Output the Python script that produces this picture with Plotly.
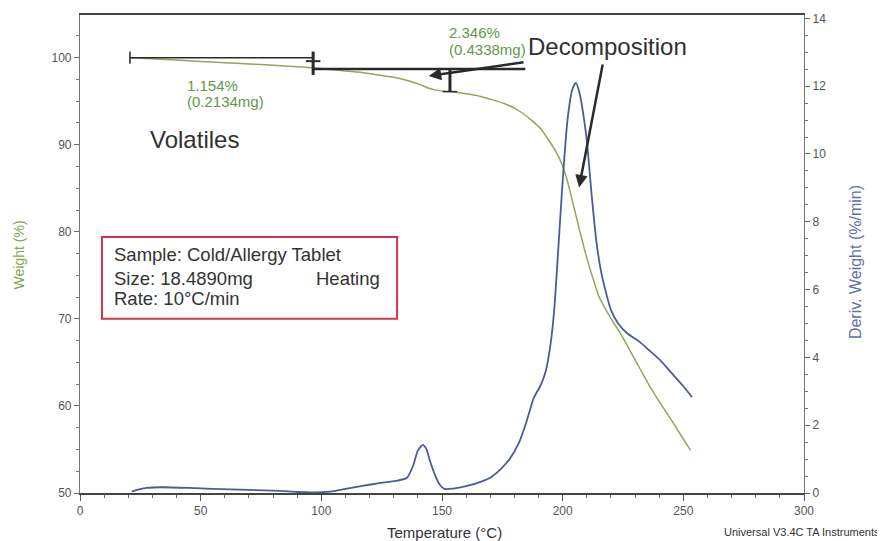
import plotly.graph_objects as go

# ---- data ----
temp_w = [21, 30, 40, 50, 60, 70, 80, 90, 96.6, 105, 115, 124, 130, 136, 141, 144, 147, 151, 155,
          160, 166, 171, 176, 180, 184, 188, 191, 194, 197, 199.5, 202, 204.5, 207, 210, 212.6,
          215, 218, 221, 224, 228, 232, 236, 240, 245, 250, 253]
weight = [100.0, 99.88, 99.72, 99.57, 99.42, 99.28, 99.12, 98.97, 98.85, 98.6, 98.35, 98.0, 97.75,
          97.35, 96.9, 96.55, 96.3, 96.15, 96.05, 95.85, 95.55, 95.15, 94.7, 94.2, 93.5, 92.6, 91.8,
          90.6, 89.3, 87.9, 85.8, 83.0, 80.2, 77.0, 74.6, 72.6, 71.0, 69.6, 68.3, 66.3, 64.3, 62.3,
          60.5, 58.4, 56.2, 54.9]

temp_d = [21.4, 24, 27.6, 34, 45, 55, 70, 83, 90, 97, 103.6, 110, 117, 124, 131, 135.5, 138, 140,
          142, 143.5, 145, 147, 149, 151, 154.6, 160, 166, 170, 174, 178, 182, 185, 188, 191, 193,
          195, 196.5, 198, 200, 202, 204, 205.5, 207, 208.5, 210, 212, 214, 216, 218, 220, 223,
          226.6, 232, 236, 240.4, 245, 250, 253.6]
deriv = [0.04, 0.1, 0.15, 0.17, 0.15, 0.12, 0.09, 0.06, 0.03, 0.02, 0.04, 0.12, 0.21, 0.29, 0.36,
         0.45, 0.8, 1.25, 1.42, 1.3, 0.95, 0.55, 0.25, 0.12, 0.13, 0.2, 0.33, 0.45, 0.68, 1.0, 1.5,
         2.1, 2.8, 3.2, 3.6, 4.4, 5.4, 7.0, 9.2, 11.0, 11.9, 12.1, 11.8, 11.2, 10.4, 8.8, 7.4, 6.5,
         5.9, 5.4, 5.0, 4.72, 4.45, 4.2, 3.92, 3.55, 3.15, 2.83]

x_ticks = [0, 50, 100, 150, 200, 250, 300]
y_ticks = [50, 60, 70, 80, 90, 100]
y2_ticks = [0, 2, 4, 6, 8, 10, 12, 14]

# step annotations (temperature, weight)
step1 = {"t0": 20.7, "t1": 96.6, "w": 100.0, "pct": "1.154%", "mg": "(0.2134mg)"}
step2 = {"t0": 96.6, "t1": 153.3, "w_top": 98.7, "w_bot": 96.1, "pct": "2.346%", "mg": "(0.4338mg)"}

GREEN = "#95a45a"
BLUE = "#4d5b98"
TXT_GREEN = "#5e9a48"
FONT = "Liberation Sans, Arial, sans-serif"

fig = go.Figure()
fig.add_trace(go.Scatter(x=temp_w, y=weight, mode="lines",
                         line=dict(color=GREEN, width=1.5, shape="spline", smoothing=0.6),
                         showlegend=False, yaxis="y"))
fig.add_trace(go.Scatter(x=temp_d, y=deriv, mode="lines",
                         line=dict(color=BLUE, width=1.8, shape="spline", smoothing=0.6),
                         showlegend=False, yaxis="y2"))

shapes = []
ann = []
DK = "#2a2a2a"

# step 1 markers
shapes.append(dict(type="line", xref="x", yref="y", x0=step1["t0"], x1=step1["t1"],
                   y0=step1["w"], y1=step1["w"], line=dict(color=DK, width=1.5)))
shapes.append(dict(type="line", xref="x", yref="y", x0=step1["t0"], x1=step1["t0"],
                   y0=100.7, y1=99.3, line=dict(color=DK, width=1.5)))
shapes.append(dict(type="line", xref="x", yref="y", x0=step1["t1"], x1=step1["t1"],
                   y0=100.7, y1=98.0, line=dict(color=DK, width=3)))
shapes.append(dict(type="line", xref="x", yref="y", x0=step1["t1"] - 3, x1=step1["t1"] + 3,
                   y0=99.6, y1=99.6, line=dict(color=DK, width=2)))
# step 2 markers
shapes.append(dict(type="line", xref="x", yref="y", x0=step2["t0"], x1=184.5,
                   y0=step2["w_top"], y1=step2["w_top"], line=dict(color=DK, width=2.5)))
shapes.append(dict(type="line", xref="x", yref="y", x0=step2["t1"], x1=step2["t1"],
                   y0=step2["w_top"], y1=step2["w_bot"], line=dict(color=DK, width=3)))
shapes.append(dict(type="line", xref="x", yref="y", x0=step2["t1"] - 3, x1=step2["t1"] + 3,
                   y0=step2["w_bot"], y1=step2["w_bot"], line=dict(color=DK, width=1.5)))

# legend box
shapes.append(dict(type="rect", xref="x", yref="y", x0=9.1, x1=131.4, y0=70.0, y1=79.4,
                   line=dict(color="#d0344e", width=2), fillcolor="rgba(0,0,0,0)"))

# arrows
ann.append(dict(x=144.5, y=97.9, ax=184.4, ay=99.5, xref="x", yref="y", axref="x", ayref="y",
                text="", showarrow=True, arrowhead=2, arrowsize=1, arrowwidth=2.5, arrowcolor=DK))
ann.append(dict(x=206.8, y=85.1, ax=216.7, ay=99.4, xref="x", yref="y", axref="x", ayref="y",
                text="", showarrow=True, arrowhead=2, arrowsize=1, arrowwidth=2.5, arrowcolor=DK))

# texts
def txt(x, y, s, size, color="#333", anchor="left"):
    ann.append(dict(x=x, y=y, xref="x", yref="y", text=s, showarrow=False, xanchor=anchor,
                    yanchor="middle", font=dict(family=FONT, size=size, color=color)))

txt(43.5, 96.75, step1["pct"], 15, TXT_GREEN)
txt(43.5, 94.95, step1["mg"], 15, TXT_GREEN)
txt(152.1, 102.9, step2["pct"], 15, TXT_GREEN)
txt(152.1, 100.95, step2["mg"], 15, TXT_GREEN)
txt(185.0, 101.3, "Decomposition", 24, "#303030")
txt(28.0, 90.6, "Volatiles", 24, "#303030")
txt(13.3, 77.4, "Sample: Cold/Allergy Tablet", 18.5, "#333")
txt(13.3, 74.6, "Size: 18.4890mg", 18.5, "#333")
txt(97.0, 74.6, "Heating", 18.5, "#333")
txt(13.3, 72.3, "Rate: 10°C/min", 18.5, "#333")

# axis titles (paper coordinates)
def ptxt(x, y, s, size, color, angle=0, xanchor="center"):
    ann.append(dict(x=x, y=y, xref="paper", yref="paper", text=s, showarrow=False,
                    xanchor=xanchor, yanchor="middle", textangle=angle,
                    font=dict(family=FONT, size=size, color=color)))

ptxt(0.503, -0.0816, "Temperature (°C)", 15, "#333")
ptxt(-0.085, 0.498, "Weight (%)", 14, "#86a652", angle=-90)
ptxt(1.0704, 0.483, "Deriv. Weight (%/min)", 16, "#6070a8", angle=-90)
ptxt(1.1077, -0.0816, "Universal V3.4C TA Instruments", 11, "#333", xanchor="right")

tickfont = dict(family=FONT, size=12, color="#555")
fig.update_layout(
    width=877, height=533,
    margin=dict(l=72, r=81, t=7, b=48),
    paper_bgcolor="white", plot_bgcolor="white",
    shapes=shapes, annotations=ann,
    xaxis=dict(range=[0, 300], tickvals=x_ticks, ticks="outside", ticklen=6, tickcolor="#555",
               showline=True, linecolor="#444", linewidth=1.5, mirror=True, showgrid=False,
               zeroline=False, tickfont=tickfont, automargin=False,
               minor=dict(dtick=10, ticks="outside", ticklen=3, tickcolor="#666")),
    yaxis=dict(range=[50, 104.9], tickvals=y_ticks, ticks="outside", ticklen=5, tickcolor="#666",
               showline=True, linecolor="#777", linewidth=1.2, showgrid=False, zeroline=False,
               tickfont=tickfont, automargin=False,
               minor=dict(dtick=2.5, ticks="outside", ticklen=3, tickcolor="#777")),
    yaxis2=dict(range=[0, 14.1], tickvals=y2_ticks, overlaying="y", side="right", ticks="outside",
                ticklen=5, tickcolor="#666", showline=True, linecolor="#777", linewidth=1.2,
                showgrid=False, zeroline=False, tickfont=tickfont, automargin=False,
                minor=dict(dtick=0.5, ticks="outside", ticklen=3, tickcolor="#777")),
)

fig.write_html("out.html")
